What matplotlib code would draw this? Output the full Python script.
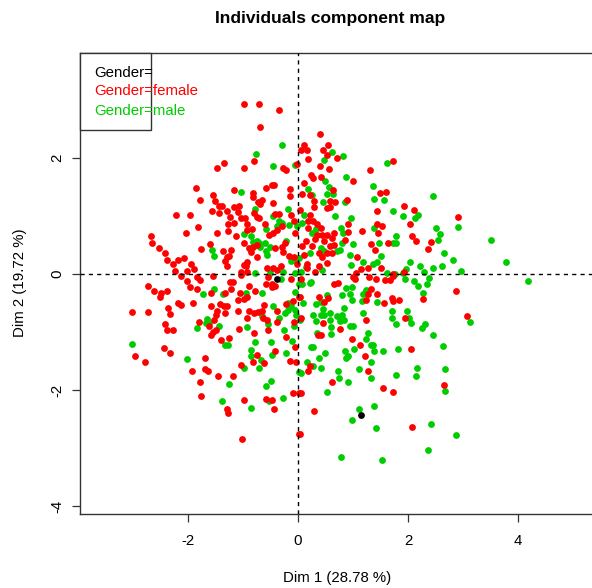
import matplotlib
matplotlib.use("Agg")
import matplotlib.pyplot as plt
from matplotlib.patches import Rectangle

plt.rcParams['font.family'] = ['Liberation Sans', 'DejaVu Sans']

female_points = [
(-0.99,2.93),(-0.71,2.93),(-0.35,2.83),(-0.69,2.53),(-0.80,1.95),(-1.35,1.91),(-1.47,1.83),(-0.99,1.82),(-0.28,1.83),(-0.22,1.79),
(-0.02,1.90),(-1.86,1.48),(-1.17,1.44),(-1.54,1.37),(-1.79,1.27),(-1.51,1.26),(-0.82,1.39),(-0.81,1.33),(-0.59,1.49),(-0.48,1.53),
(-0.44,1.53),(-0.15,1.46),(-0.15,1.35),(-0.66,1.28),(-0.73,1.25),(-0.69,1.20),(-0.46,1.23),(-1.43,1.18),(-1.39,1.17),(-1.56,1.09),
(-1.43,1.06),(-1.30,1.09),(-1.16,1.16),(-1.07,1.18),(-1.09,1.07),(-2.22,1.02),(-1.97,1.01),(-1.24,0.98),(-1.04,0.96),(-0.96,0.96),
(-1.27,0.86),(-1.17,0.88),(-0.93,0.87),(-0.80,1.06),(-0.75,0.99),(-0.71,0.96),(-0.60,0.87),(-0.42,1.03),(-0.34,1.03),(-0.13,1.02),
(-0.08,0.91),(-1.82,0.81),(-2.03,0.71),(-1.47,0.71),(-1.27,0.74),(-1.13,0.66),(-0.93,0.76),(-0.84,0.77),(-2.68,0.65),(-2.65,0.54),
(-2.53,0.45),(-2.42,0.36),(-2.38,0.25),(-2.18,0.24),(-2.07,0.27),(-1.95,0.18),(-2.27,0.17),(-2.24,0.06),(-2.02,0.05),(-1.89,0.09),
(-1.77,0.43),(-1.60,0.51),(-1.36,0.40),(-1.21,0.42),(-1.25,0.31),(-1.30,0.30),(-1.33,0.23),(-1.29,0.13),(-0.99,0.53),(-0.90,0.44),
(-0.86,0.38),(-0.75,0.29),(-0.93,0.21),(-0.98,0.15),(-0.95,0.13),(-1.03,0.03),(-0.45,0.70),(-0.53,0.67),(-0.39,0.76),(-0.30,0.82),
(-0.81,0.47),(-0.75,0.50),(-0.42,0.45),(-0.29,0.47),(-0.24,0.53),(-0.27,0.38),(-0.16,0.31),(-0.08,0.30),(-0.57,0.10),(-0.46,0.11),
(-0.31,0.14),(-0.39,0.07),(-0.93,0.04),(-0.05,0.70),(-0.02,0.18),
(0.40,2.41),(0.10,2.23),(0.55,2.22),(0.06,2.13),(0.17,2.13),(0.45,2.13),(0.53,2.06),(0.70,2.00),(0.19,1.98),(1.73,1.94),
(0.40,1.86),(0.57,1.81),(1.30,1.79),(0.24,1.71),(0.27,1.65),(0.42,1.68),(1.00,1.61),(0.10,1.57),(0.08,1.38),(0.22,1.36),
(0.63,1.45),(1.49,1.39),(1.60,1.41),(0.89,1.27),(0.29,1.26),(0.58,1.26),(0.67,1.25),(0.58,1.16),(0.53,1.14),(0.29,1.15),
(1.93,1.18),(2.11,1.10),(1.43,1.09),(0.03,1.10),(0.22,1.02),(2.91,0.99),(0.18,0.91),(0.28,0.92),(0.35,0.87),(0.91,0.87),
(1.43,0.87),(1.53,0.82),(2.04,0.86),(0.18,0.79),(0.42,0.79),(1.16,0.75),(0.90,0.72),(1.45,0.71),(0.35,0.68),(0.44,0.68),
(0.53,0.67),(0.61,0.62),(0.65,0.71),(0.30,0.60),(0.47,0.57),(0.86,0.59),(2.07,0.66),(2.15,0.57),(2.42,0.56),(0.15,0.57),
(0.08,0.49),(0.25,0.49),(0.59,0.49),(0.65,0.50),(1.33,0.52),(1.64,0.53),(1.40,0.42),(2.36,0.43),(0.38,0.36),(0.52,0.37),
(0.61,0.37),(0.11,0.33),(0.44,0.29),(1.08,0.30),(0.52,0.19),(0.16,0.18),(0.39,0.13),(0.30,0.04),(1.15,0.08),(1.27,0.10),
(1.51,0.10),(1.06,0.01),(0.17,0.10),(1.93,0.03),(1.73,0.00),
(-2.73,-0.21),(-2.62,-0.29),(-2.49,-0.33),(-2.51,-0.39),(-2.38,-0.30),(-2.13,-0.03),(-2.01,-0.12),(-1.97,-0.22),(-1.84,-0.26),(-1.83,-0.05),
(-1.78,-0.11),(-1.55,-0.04),(-1.58,-0.32),(-1.33,-0.33),(-1.24,-0.14),(-1.19,-0.14),(-1.21,-0.25),(-1.05,-0.33),(-0.90,-0.20),(-0.79,-0.29),
(-0.93,-0.39),(-0.98,-0.43),(-1.09,-0.45),(-0.59,-0.18),(-0.48,-0.17),(-0.42,-0.21),(-0.48,-0.22),(-0.55,-0.05),(-0.13,-0.09),(-1.04,-0.01),
(-3.02,-0.65),(-2.73,-0.65),(-2.36,-0.58),(-2.33,-0.69),(-2.19,-0.50),(-2.13,-0.54),(-1.91,-0.50),(-1.58,-0.55),(-1.42,-0.52),(-1.35,-0.55),
(-1.29,-0.55),(-1.47,-0.63),(-1.49,-0.70),(-1.33,-0.67),(-1.10,-0.63),(-0.90,-0.64),(-0.80,-0.67),(-0.73,-0.66),(-0.66,-0.63),(-0.62,-0.53),
(-0.38,-0.63),(-0.22,-0.52),(-0.09,-0.47),(-0.93,-0.76),(-0.63,-0.75),(-0.57,-0.80),(-0.39,-0.82),(-0.08,-0.82),(-1.80,-0.82),(-1.52,-0.80),
(-1.61,-0.89),(-2.41,-0.86),(-2.38,-0.97),(-2.27,-0.96),(-1.49,-0.96),(-1.55,-1.00),(-1.59,-1.05),(-1.07,-0.95),(-0.80,-1.01),(-0.54,-0.96),
(-0.22,-1.08),(-1.40,-1.13),(-1.25,-1.10),(-2.44,-1.27),(-2.32,-1.36),(-2.97,-1.42),(-2.79,-1.51),(-0.75,-1.39),(-0.41,-1.32),(-0.05,-1.25),
(-0.15,-1.50),(-0.03,-1.51),(-0.82,-1.52),(-0.61,-1.54),(-1.04,-1.57),(-1.69,-1.45),(-1.92,-1.67),(-1.70,-1.64),(-1.64,-1.68),(-1.45,-1.76),
(-1.18,-1.75),(-1.78,-1.87),(-1.77,-2.10),(-0.99,-2.17),(-0.59,-2.16),(-0.47,-2.17),(-0.10,-2.06),(-0.44,-2.32),(-1.29,-2.32),(-1.27,-2.40),
(-1.02,-2.85),(0.01,-2.75),(0.01,-2.05),(0.01,-0.40),
(0.06,-0.08),(0.65,-0.17),(0.73,-0.16),(1.00,-0.05),(1.03,-0.09),(1.29,-0.05),(1.42,-0.09),(1.59,-0.11),(1.67,-0.10),(1.73,-0.03),
(1.32,-0.26),(2.87,-0.30),(1.44,-0.35),(1.27,-0.34),(1.24,-0.45),(0.38,-0.39),(0.55,-0.41),(0.48,-0.48),(0.03,-0.40),(1.70,-0.41),
(1.73,-0.47),(1.84,-0.44),(2.27,-0.43),(1.57,-0.50),(3.08,-0.72),(1.95,-0.75),(1.24,-0.79),(0.06,-0.75),(0.45,-0.84),(0.77,-0.94),
(0.36,-1.05),(0.41,-1.05),(0.99,-1.12),(1.12,-1.22),(2.06,-1.30),(1.22,-1.42),(0.21,-1.59),(0.19,-1.67),(1.28,-1.67),(0.62,-1.87),
(1.54,-1.96),(2.65,-1.91),(1.73,-2.04),(0.06,-2.06),(0.29,-2.37),(2.07,-2.64),(0.03,-2.75),
]

male_points = [
(-0.30,2.22),(-0.76,2.07),(-0.45,1.86),(-0.05,1.88),(-1.04,1.41),(-0.78,1.12),(-0.18,1.12),(-0.46,1.00),(-0.35,0.92),(-0.29,0.88),
(-0.16,0.84),(-0.39,0.82),(-0.58,0.78),(-0.02,0.82),(-0.98,0.69),(-0.85,0.66),(-0.81,0.56),(-0.75,0.57),(-0.71,0.54),(-0.60,0.54),
(-0.51,0.46),(-0.69,0.46),(-0.58,0.40),(-0.57,0.33),(-1.57,0.41),(-1.52,0.31),(-0.13,0.23),(-0.08,0.25),(-0.27,0.04),(-0.78,0.01),
(-0.51,0.01),(-0.05,0.02),(-0.21,0.57),
(0.62,2.11),(0.81,2.03),(0.48,1.97),(1.62,1.92),(0.87,1.68),(0.49,1.61),(1.36,1.52),(0.57,1.50),(0.18,1.47),(0.53,1.38),
(0.64,1.38),(0.25,1.37),(1.39,1.30),(1.56,1.28),(2.46,1.34),(0.46,1.24),(0.85,1.25),(1.72,1.08),(1.90,1.00),(2.18,1.02),
(2.13,0.96),(0.67,1.00),(0.96,0.96),(0.10,1.01),(0.07,0.88),(0.78,0.80),(1.38,0.79),(2.50,0.80),(2.90,0.81),(0.82,0.71),
(0.32,0.78),(0.25,0.70),(2.58,0.69),(1.79,0.66),(3.50,0.59),(2.54,0.59),(1.47,0.54),(1.73,0.53),(1.78,0.53),(1.00,0.52),
(0.80,0.53),(0.42,0.45),(0.48,0.40),(0.22,0.37),(0.70,0.39),(0.76,0.41),(2.65,0.37),(0.95,0.33),(1.51,0.31),(2.82,0.25),
(1.19,0.21),(2.04,0.21),(3.79,0.20),(0.97,0.16),(1.44,0.21),(1.36,0.18),(2.22,0.14),(2.62,0.14),(2.46,0.11),(1.96,0.08),
(0.15,0.12),(0.44,0.07),(0.05,0.04),(0.02,0.27),(2.97,0.05),(1.62,0.02),(2.29,0.03),(1.77,0.00),(1.91,0.01),
(-1.52,-0.25),(-1.73,-0.35),(-1.36,-0.35),(-0.94,-0.32),(-0.66,-0.32),(-0.05,-0.31),(-0.31,-0.08),(0.01,-0.18),(-0.45,-0.56),(-0.19,-0.50),
(-0.13,-0.56),(-0.18,-0.62),(-0.24,-0.68),(-0.05,-0.62),(-0.34,-0.75),(-0.03,-0.70),(-0.66,-0.73),(-0.54,-0.86),(-0.08,-0.89),(-1.65,-0.78),
(-1.67,-0.85),(-1.61,-0.85),(-1.84,-0.93),(-1.44,-0.90),(-0.92,-0.92),(-0.26,-0.96),(-3.01,-1.20),(-1.33,-1.22),(-1.28,-1.22),(-0.79,-1.18),
(-0.50,-1.18),(-0.11,-1.16),(-0.85,-1.31),(-0.85,-1.42),(-0.47,-1.39),(-0.21,-1.36),(-2.01,-1.47),(-0.67,-1.49),(-0.71,-1.62),(-0.99,-1.62),
(0.02,-1.69),(-0.50,-1.85),(-0.59,-1.93),(-1.25,-1.89),(-1.38,-2.19),(-0.53,-2.19),(-0.28,-2.14),(-0.85,-2.31),
(4.19,-0.12),(1.94,-0.09),(2.11,-0.12),(2.38,-0.07),(2.19,-0.21),(2.34,-0.18),(2.27,-0.32),(0.07,-0.18),(0.21,-0.15),(0.24,-0.13),
(0.88,-0.24),(0.99,-0.23),(1.24,-0.27),(0.95,-0.34),(1.19,-0.35),(0.80,-0.37),(0.52,-0.37),(0.99,-0.45),(1.16,-0.47),(1.44,-0.48),
(0.09,-0.50),(0.33,-0.52),(0.42,-0.49),(0.84,-0.59),(0.45,-0.60),(0.28,-0.70),(0.41,-0.71),(0.48,-0.71),(0.59,-0.68),(0.70,-0.72),
(0.80,-0.70),(1.19,-0.68),(1.70,-0.64),(1.70,-0.75),(1.98,-0.64),(2.02,-0.75),(2.06,-0.85),(1.78,-0.86),(0.32,-0.81),(0.59,-0.80),
(0.76,-0.81),(0.84,-0.80),(0.03,-0.80),(0.60,-0.91),(0.95,-0.89),(1.00,-0.89),(3.13,-0.82),(2.30,-0.86),(2.25,-0.93),(2.45,-1.06),
(0.35,-1.02),(0.60,-1.04),(1.27,-1.01),(1.24,-1.12),(2.64,-1.24),(1.32,-1.22),(1.36,-1.22),(0.24,-1.26),(0.28,-1.26),(1.02,-1.29),
(0.86,-1.32),(1.39,-1.32),(1.55,-1.33),(1.82,-1.30),(0.49,-1.37),(0.90,-1.41),(0.88,-1.45),(0.39,-1.45),(1.33,-1.51),(0.17,-1.51),
(0.28,-1.59),(0.42,-1.62),(0.72,-1.67),(1.10,-1.64),(2.17,-1.62),(2.67,-1.63),(0.05,-1.70),(1.79,-1.74),(2.14,-1.75),(0.75,-1.79),
(1.32,-1.79),(0.91,-1.87),(0.53,-2.04),(2.68,-2.02),(1.11,-2.32),(1.38,-2.28),(0.98,-2.52),(1.42,-2.65),(2.41,-2.59),(2.87,-2.77),
(2.37,-3.04),(0.78,-3.16),(1.52,-3.20),
]

other_points = [(-0.39,-0.08),(1.15,-2.43)]

legend_labels = ["Gender=", "Gender=female", "Gender=male"]
x_ticks = [-2, 0, 2, 4]
y_ticks = [-4, -2, 0, 2]
title = "Individuals component map"
x_label = "Dim 1 (28.78 %)"
y_label = "Dim 2 (19.72 %)"

W, H = 592, 588
fig = plt.figure(figsize=(W/100, H/100), dpi=100, facecolor='white')
L, R, T, B = 80, 600, 53, 514
ax = fig.add_axes([L/W, (H-B)/H, (R-L)/W, (B-T)/H])
ax.set_xlim((L-298)/55, (R-298)/55)
ax.set_ylim((274-B)/58, (274-T)/58)

RED, GREEN = '#FF0000', '#00CD00'
ax.scatter(*zip(*male_points), s=24, c=GREEN, linewidths=0, zorder=3)
ax.scatter(*zip(*female_points), s=24, c=RED, linewidths=0, zorder=3)
ax.scatter(*zip(*other_points), s=24, c='black', linewidths=0, zorder=4)
ax.axhline(0, color='black', lw=1, ls=(0, (3, 3)), zorder=5)
ax.axvline(0, color='black', lw=1, ls=(0, (3, 3)), zorder=5)

for s in ax.spines.values():
    s.set_linewidth(1.0)
    s.set_color('#333333')
ax.set_xticks(x_ticks)
ax.set_yticks(y_ticks)
ax.tick_params(axis='both', length=5.5, width=0.9, color='#333333', labelsize=10.8)
ax.tick_params(axis='x', pad=9)
ax.tick_params(axis='y', pad=6)
ax.set_xticklabels([str(v) for v in x_ticks])
ax.set_yticklabels([str(v) for v in y_ticks], rotation=90, va='center')

def px(x, y):
    return x/W, 1 - y/H

fig.text(*px(330, 18), title, fontsize=12.5, fontweight='bold', ha='center', va='center')
fig.text(*px(337, 578), x_label, fontsize=10.8, ha='center', va='center')
fig.text(*px(20, 283), y_label, fontsize=10.8, rotation=90, ha='center', va='center')

fig.add_artist(Rectangle(px(80, 130), 71/W, 77/H, transform=fig.transFigure,
                         facecolor='white', edgecolor='#333333', lw=1.0, zorder=6))
for label, y, c in zip(legend_labels, [73, 91, 111], ['black', RED, GREEN]):
    fig.text(*px(94, y), label, fontsize=10.8, color=c, ha='left', va='center', zorder=7)

fig.savefig('out.png', dpi=100)
